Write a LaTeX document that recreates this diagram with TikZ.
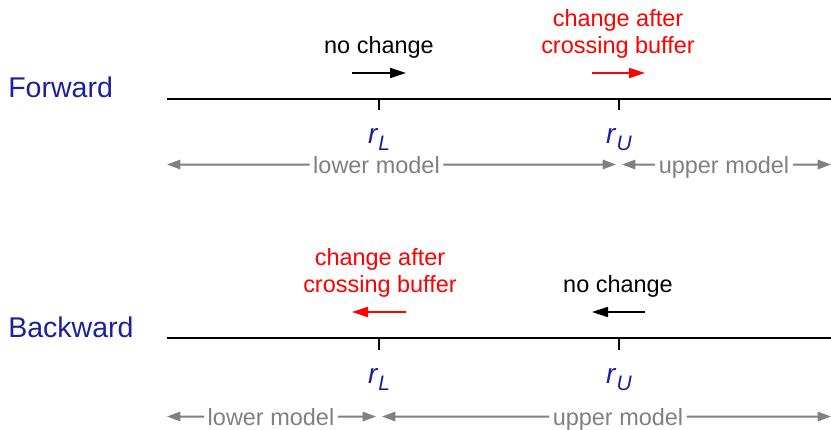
\documentclass[tikz,border=0pt]{standalone}
\usepackage{fontspec}
\setmainfont{Liberation Sans}
\usetikzlibrary{arrows.meta}
\definecolor{labblue}{RGB}{30,30,160}
\definecolor{modgray}{RGB}{128,128,128}
\tikzset{
  rowlabel/.style={anchor=base west, inner sep=0pt, text=labblue, font=\fontsize{21.4pt}{24pt}\selectfont},
  axisline/.style={line width=1.5pt, black},
  tickline/.style={line width=1.5pt, black},
  rlabel/.style={anchor=base, inner sep=0pt, text=labblue, font=\fontsize{21pt}{24pt}\selectfont},
  smalltxt/.style={anchor=base, inner sep=0pt, font=\fontsize{17.6pt}{20.25pt}\selectfont, align=center},
  dirarrow/.style={line width=1.5pt, -{Triangle[length=12pt,width=7.5pt]}},
  modtxt/.style={anchor=base, text=modgray, inner ysep=0pt, inner xsep=2.5pt, text height=12.6pt, text depth=0pt, font=\fontsize{17.6pt}{20.25pt}\selectfont},
  modarrow/.style={modgray, line width=1.5pt, -{Triangle[length=10pt,width=7pt]}},
}
\newcommand{\rsub}[1]{\textit{r}\raisebox{-5.25pt}{\fontsize{15.75pt}{16pt}\selectfont\textit{#1}}}
\begin{document}
\begin{tikzpicture}[x=0.75pt,y=-0.75pt]
\useasboundingbox (0,0) rectangle (831,429);

% ---------- Forward ----------
\node[rowlabel] (fwd) at (8,97) {Forward};
\coordinate (fL) at (167,99);
\coordinate (fR) at (831,99);
\draw[axisline] (fL) -- (fR);
\coordinate (ftL) at (379,99); \coordinate (ftLb) at (379,110);
\coordinate (ftU) at (619,99); \coordinate (ftUb) at (619,110);
\draw[tickline] (ftL) -- (ftLb);
\draw[tickline] (ftU) -- (ftUb);
\node[rlabel] (frL) at (379,143) {\rsub{L}};
\node[rlabel] (frU) at (619,143) {\rsub{U}};

\node[smalltxt] (fnc) at (379,53) {no change};
\coordinate (fa1s) at (352,73); \coordinate (fa1e) at (406,73);
\draw[dirarrow] (fa1s) -- (fa1e);
\node[smalltxt, text=red] (fcab1) at (618,26) {change after};
\node[smalltxt, text=red] (fcab2) at (618,53) {crossing buffer};
\coordinate (fa2s) at (592,73); \coordinate (fa2e) at (645,73);
\draw[dirarrow, red] (fa2s) -- (fa2e);

% model ranges (forward)
\node[modtxt] (flm) at (376.5,173) {lower model};
\node[modtxt] (fum) at (724,173) {upper model};
\coordinate (fm1) at (167,164.5);
\coordinate (fm2) at (616,164.5);
\coordinate (fm3) at (622,164.5);
\coordinate (fm4) at (831,164.5);
\draw[modarrow] (flm.west) -- (fm1);
\draw[modarrow] (flm.east) -- (fm2);
\draw[modarrow] (fum.west) -- (fm3);
\draw[modarrow] (fum.east) -- (fm4);

% ---------- Backward ----------
\node[rowlabel] (bwd) at (8,337) {Backward};
\coordinate (bL) at (167,338);
\coordinate (bR) at (831,338);
\draw[axisline] (bL) -- (bR);
\coordinate (btL) at (379,338); \coordinate (btLb) at (379,350);
\coordinate (btU) at (619,338); \coordinate (btUb) at (619,350);
\draw[tickline] (btL) -- (btLb);
\draw[tickline] (btU) -- (btUb);
\node[rlabel] (brL) at (379,383) {\rsub{L}};
\node[rlabel] (brU) at (619,383) {\rsub{U}};

\node[smalltxt, text=red] (bcab1) at (380,265) {change after};
\node[smalltxt, text=red] (bcab2) at (380,292) {crossing buffer};
\coordinate (ba1s) at (406,312); \coordinate (ba1e) at (352,312);
\draw[dirarrow, red] (ba1s) -- (ba1e);
\node[smalltxt] (bnc) at (618,292) {no change};
\coordinate (ba2s) at (645,312); \coordinate (ba2e) at (592,312);
\draw[dirarrow] (ba2s) -- (ba2e);

% model ranges (backward)
\node[modtxt] (blm) at (271,425) {lower model};
\node[modtxt] (bum) at (618,425) {upper model};
\coordinate (bm1) at (167,416.5);
\coordinate (bm2) at (376,416.5);
\coordinate (bm3) at (382,416.5);
\coordinate (bm4) at (831,416.5);
\draw[modarrow] (blm.west) -- (bm1);
\draw[modarrow] (blm.east) -- (bm2);
\draw[modarrow] (bum.west) -- (bm3);
\draw[modarrow] (bum.east) -- (bm4);
\end{tikzpicture}
\end{document}
